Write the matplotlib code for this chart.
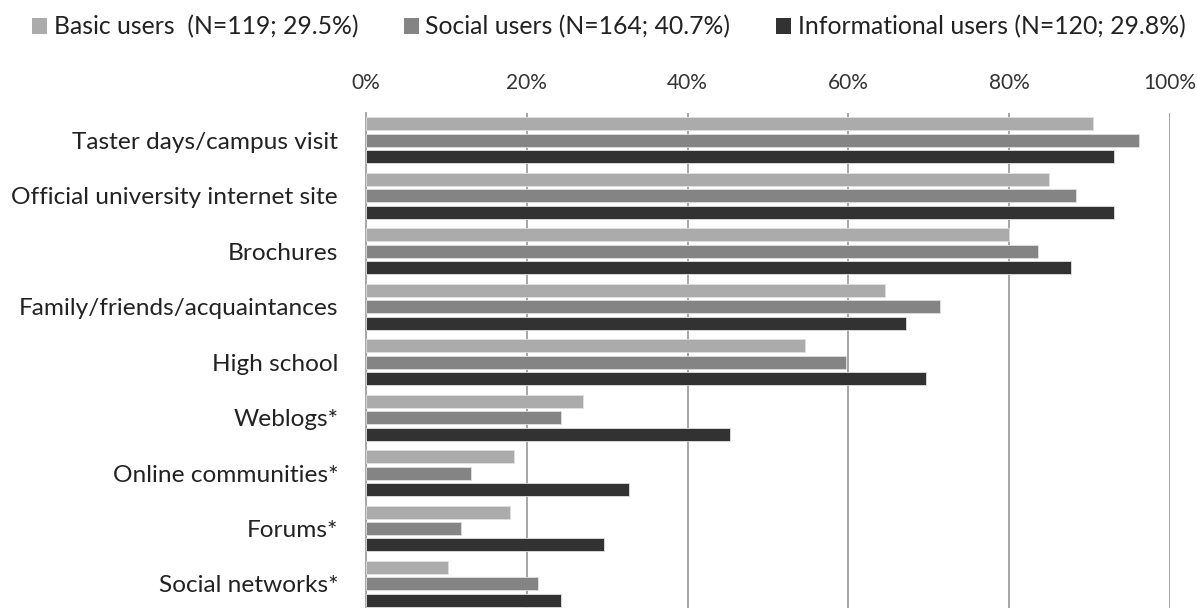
import matplotlib.pyplot as plt
import numpy as np
from matplotlib.patches import Patch

categories = ['Taster days/campus visit', 'Official university internet site', 'Brochures',
              'Family/friends/acquaintances', 'High school', 'Weblogs*',
              'Online communities*', 'Forums*', 'Social networks*']
basic = [90.4, 84.9, 80.0, 64.5, 54.6, 27.0, 18.4, 17.9, 10.2]
social = [96.2, 88.3, 83.6, 71.4, 59.7, 24.3, 13.1, 11.8, 21.4]
informational = [93.0, 93.0, 87.7, 67.2, 69.6, 45.3, 32.7, 29.6, 24.2]
series_labels = ['Basic users  (N=119; 29.5%)', 'Social users (N=164; 40.7%)',
                 'Informational users (N=120; 29.8%)']
xticks = [0, 20, 40, 60, 80, 100]

colors = ['#ababab', '#848484', '#323232']
font = ['Lato', 'DejaVu Sans']
plt.rcParams['font.family'] = font

fig = plt.figure(figsize=(11.97, 6.08), dpi=100)
ax = fig.add_axes([366 / 1197, -0.006, (1170 - 366) / 1197, 0.8206])

y = np.arange(len(categories))
pitch = 0.297
h = 0.235
for i, (vals, c) in enumerate(zip([basic, social, informational], colors)):
    ax.barh(y + (i - 1) * pitch, vals, height=h, color=c, edgecolor='#e0e0e0',
            linewidth=0.6, zorder=3)

ax.set_xlim(0, 100)
ax.set_ylim(8.5, -0.5)
ax.set_xticks(xticks)
ax.set_xticklabels([f'{t}%' for t in xticks])
ax.xaxis.tick_top()
ax.tick_params(axis='x', length=0, pad=14, labelsize=15, labelcolor='#333333')
ax.set_yticks(y)
ax.set_yticklabels(categories)
ax.tick_params(axis='y', length=0, pad=20, labelsize=17.6, labelcolor='#222222')
ax.grid(axis='x', color='#a6a6a6', linewidth=1.4, zorder=0)
for s in ['top', 'right', 'bottom']:
    ax.spines[s].set_visible(False)
ax.spines['left'].set_color('#a6a6a6')
ax.spines['left'].set_linewidth(1.4)

handles = [Patch(facecolor=c, edgecolor='none') for c in colors]
fig.legend(handles, series_labels, loc='upper center', bbox_to_anchor=(0.5085, 1.012), ncol=3,
           frameon=False, fontsize=17.8, handlelength=0.62, handleheight=0.62,
           handletextpad=0.25, columnspacing=1.85, labelcolor='#222222')

fig.savefig('out.png', dpi=100)
